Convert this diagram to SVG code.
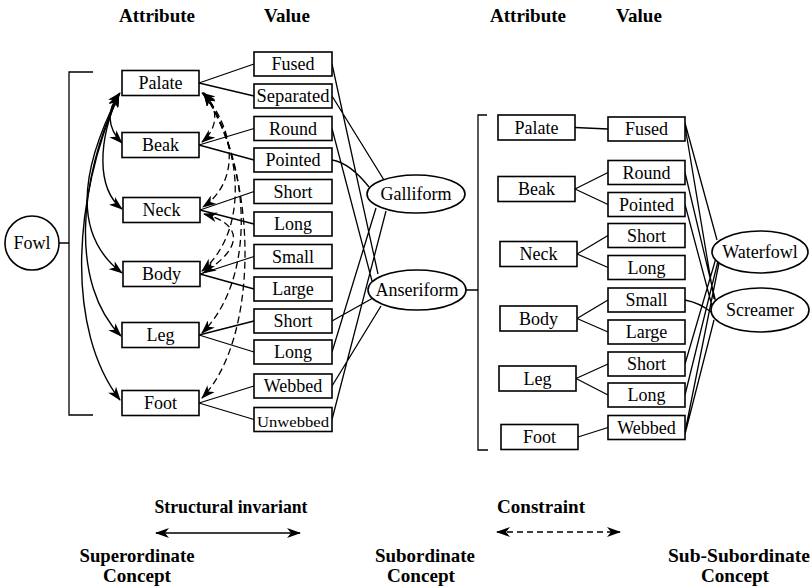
<svg xmlns="http://www.w3.org/2000/svg" width="812" height="588" viewBox="0 0 812 588">
<style>
.box{fill:#fff;stroke:#000;stroke-width:1.6}
.ell{fill:#fff;stroke:#000;stroke-width:1.6}
.t{font-family:"Liberation Serif","Times New Roman",serif;font-size:18px;text-anchor:middle;fill:#000}
.h{font-family:"Liberation Serif","Times New Roman",serif;font-size:19px;font-weight:bold;text-anchor:middle;fill:#000}
.b{font-family:"Liberation Serif","Times New Roman",serif;font-size:19px;font-weight:bold;text-anchor:middle;fill:#000}
.ln{fill:none;stroke:#000;stroke-width:1.3}
.si{fill:none;stroke:#000;stroke-width:1.4;marker-start:url(#as);marker-end:url(#ae)}
.cs{fill:none;stroke:#000;stroke-width:1.3;stroke-dasharray:7 4;marker-start:url(#as);marker-end:url(#ae)}
</style>
<defs>
<marker id="ae" viewBox="0 0 14 10" refX="13" refY="5" markerWidth="14" markerHeight="10" markerUnits="userSpaceOnUse" orient="auto"><path d="M0,0 L14,5 L0,10 L4,5 z" fill="#000"/></marker>
<marker id="as" viewBox="0 0 14 10" refX="1" refY="5" markerWidth="14" markerHeight="10" markerUnits="userSpaceOnUse" orient="auto"><path d="M14,0 L0,5 L14,10 L10,5 z" fill="#000"/></marker>
</defs>

<g id="headings">
<text class="h" x="157" y="22">Attribute</text>
<text class="h" x="287" y="22">Value</text>
<text class="h" x="528" y="22">Attribute</text>
<text class="h" x="639" y="22">Value</text>
</g>

<g id="connectors">
<path class="ln" d="M59,243 H69 M93,72 H69 V415 H93"/>
<path class="ln" d="M199,83 L254,64 M199,83 L254,96 M199,145 L254,128.5 M199,145 L254,160 M200,210 L254,191.5 M200,210 L254,224 M200,274 L254,256.5 M200,274 L254,289 M199,335 L254,321 M199,335 L254,352 M199,403 L254,386 M199,403 L254,419.5"/>
<path class="ln" d="M332,96 L384,180 M332,160 Q350,163 369,187 M332,64 L378,274 M332,128.5 L372,281 M332,352 L376,208 M332,419.5 L386,211 M332,321 L373,298 M332,386 L381,306"/>
<path class="ln" d="M466,290 H478 M487,115 H478 V450 H488"/>
<path class="ln" d="M575,127.5 L608,129 M575,189 L608,172.5 M575,189 L608,204.5 M577,254 L608,235.5 M577,254 L608,267.5 M577,318.5 L608,300 M577,318.5 L608,332 M576,378.5 L608,364 M576,378.5 L608,395 M578,437 L608,427.5"/>
<path class="ln" d="M685,123 L717,240 M685,126 L714,299 M685,172.5 L716,303 M685,204.5 L712,306 M685,300 Q700,303 711,312 M685,364 L716,258 M685,395 L718,261 M685,432 L719,263 M685,434 L714,320"/>
<path class="si" d="M120,93 C106,110 107,128 122,143"/>
<path class="si" d="M119,94 C98,140 96,188 122,209"/>
<path class="si" d="M119,94 C80,170 72,235 122,273"/>
<path class="si" d="M119,94 C78,180 70,285 121,336"/>
<path class="si" d="M119,94 C72,200 66,330 120,400"/>
<path class="cs" d="M202,93 C219,105 219,128 202,142"/>
<path class="cs" d="M203,93 C236,130 240,182 203,207"/>
<path class="cs" d="M204,93 C244,150 248,232 202,271"/>
<path class="cs" d="M204,214 C243,224 244,248 203,273"/>
<path class="cs" d="M204,93 C254,170 254,282 202,333"/>
<path class="cs" d="M204,93 C260,180 258,340 202,398"/>
</g>

<g id="fowl"><circle class="ell" cx="32" cy="243" r="27"/><text class="t" x="32" y="249">Fowl</text></g>

<g id="l-palate"><rect class="box" x="122" y="70.5" width="77" height="25"/><text class="t" x="160.5" y="89">Palate</text></g>
<g id="l-beak"><rect class="box" x="122" y="132.5" width="77" height="25"/><text class="t" x="160.5" y="151">Beak</text></g>
<g id="l-neck"><rect class="box" x="123" y="197.5" width="77" height="25"/><text class="t" x="161.5" y="216">Neck</text></g>
<g id="l-body"><rect class="box" x="123" y="261.5" width="77" height="25"/><text class="t" x="161.5" y="280">Body</text></g>
<g id="l-leg"><rect class="box" x="122" y="322.5" width="77" height="25"/><text class="t" x="160.5" y="341">Leg</text></g>
<g id="l-foot"><rect class="box" x="122" y="390.5" width="77" height="25"/><text class="t" x="160.5" y="409">Foot</text></g>

<g id="lv-fused"><rect class="box" x="254" y="52" width="78" height="24"/><text class="t" x="293" y="70">Fused</text></g>
<g id="lv-separated"><rect class="box" x="254" y="84" width="78" height="24"/><text class="t" x="293" y="102" textLength="73" lengthAdjust="spacingAndGlyphs">Separated</text></g>
<g id="lv-round"><rect class="box" x="254" y="116.5" width="78" height="24"/><text class="t" x="293" y="134.5">Round</text></g>
<g id="lv-pointed"><rect class="box" x="254" y="148" width="78" height="24"/><text class="t" x="293" y="166">Pointed</text></g>
<g id="lv-short1"><rect class="box" x="254" y="179.5" width="78" height="24"/><text class="t" x="293" y="197.5">Short</text></g>
<g id="lv-long1"><rect class="box" x="254" y="212" width="78" height="24"/><text class="t" x="293" y="230">Long</text></g>
<g id="lv-small"><rect class="box" x="254" y="244.5" width="78" height="24"/><text class="t" x="293" y="262.5">Small</text></g>
<g id="lv-large"><rect class="box" x="254" y="277" width="78" height="24"/><text class="t" x="293" y="295">Large</text></g>
<g id="lv-short2"><rect class="box" x="254" y="309" width="78" height="24"/><text class="t" x="293" y="327">Short</text></g>
<g id="lv-long2"><rect class="box" x="254" y="340" width="78" height="24"/><text class="t" x="293" y="358">Long</text></g>
<g id="lv-webbed"><rect class="box" x="254" y="374" width="78" height="24"/><text class="t" x="293" y="392">Webbed</text></g>
<g id="lv-unwebbed"><rect class="box" x="254" y="407.5" width="78" height="24"/><text class="t" x="293" y="427" style="font-size:15px" textLength="72" lengthAdjust="spacingAndGlyphs">Unwebbed</text></g>

<g id="galliform"><ellipse class="ell" cx="416" cy="194" rx="49" ry="19"/><text class="t" x="416" y="200">Galliform</text></g>
<g id="anseriform"><ellipse class="ell" cx="417" cy="290" rx="49" ry="20"/><text class="t" x="417" y="296">Anseriform</text></g>

<g id="r-palate"><rect class="box" x="498" y="115" width="77" height="25"/><text class="t" x="536.5" y="133.5">Palate</text></g>
<g id="r-beak"><rect class="box" x="498" y="176.5" width="77" height="25"/><text class="t" x="536.5" y="195">Beak</text></g>
<g id="r-neck"><rect class="box" x="500" y="241.5" width="77" height="25"/><text class="t" x="538.5" y="260">Neck</text></g>
<g id="r-body"><rect class="box" x="500" y="306" width="77" height="25"/><text class="t" x="538.5" y="324.5">Body</text></g>
<g id="r-leg"><rect class="box" x="499" y="366" width="77" height="25"/><text class="t" x="537.5" y="384.5">Leg</text></g>
<g id="r-foot"><rect class="box" x="501" y="424.5" width="77" height="25"/><text class="t" x="539.5" y="443">Foot</text></g>

<g id="rv-fused"><rect class="box" x="608" y="117" width="77" height="24"/><text class="t" x="646.5" y="135">Fused</text></g>
<g id="rv-round"><rect class="box" x="608" y="160.5" width="77" height="24"/><text class="t" x="646.5" y="178.5">Round</text></g>
<g id="rv-pointed"><rect class="box" x="608" y="192.5" width="77" height="24"/><text class="t" x="646.5" y="210.5">Pointed</text></g>
<g id="rv-short1"><rect class="box" x="608" y="223.5" width="77" height="24"/><text class="t" x="646.5" y="241.5">Short</text></g>
<g id="rv-long1"><rect class="box" x="608" y="255.5" width="77" height="24"/><text class="t" x="646.5" y="273.5">Long</text></g>
<g id="rv-small"><rect class="box" x="608" y="288" width="77" height="24"/><text class="t" x="646.5" y="306">Small</text></g>
<g id="rv-large"><rect class="box" x="608" y="320" width="77" height="24"/><text class="t" x="646.5" y="338">Large</text></g>
<g id="rv-short2"><rect class="box" x="608" y="352" width="77" height="24"/><text class="t" x="646.5" y="370">Short</text></g>
<g id="rv-long2"><rect class="box" x="608" y="383" width="77" height="24"/><text class="t" x="646.5" y="401">Long</text></g>
<g id="rv-webbed"><rect class="box" x="608" y="415.5" width="77" height="24"/><text class="t" x="646.5" y="433.5">Webbed</text></g>

<g id="waterfowl"><ellipse class="ell" cx="760" cy="252" rx="48" ry="21"/><text class="t" x="760" y="258">Waterfowl</text></g>
<g id="screamer"><ellipse class="ell" cx="760" cy="310" rx="49" ry="22"/><text class="t" x="760" y="316">Screamer</text></g>

<g id="legend">
<text class="b" x="231" y="513" textLength="153" lengthAdjust="spacingAndGlyphs">Structural invariant</text>
<line x1="156" y1="533" x2="300" y2="533" stroke="#000" stroke-width="1.5" marker-start="url(#as)" marker-end="url(#ae)"/>
<text class="b" x="541" y="513" textLength="88" lengthAdjust="spacingAndGlyphs">Constraint</text>
<line x1="497" y1="532" x2="620" y2="532" stroke="#000" stroke-width="1.3" stroke-dasharray="6 4" marker-start="url(#as)" marker-end="url(#ae)"/>
<text class="b" x="137" y="562" textLength="115" lengthAdjust="spacingAndGlyphs">Superordinate</text>
<text class="b" x="137" y="582" textLength="68" lengthAdjust="spacingAndGlyphs">Concept</text>
<text class="b" x="425" y="562" textLength="100" lengthAdjust="spacingAndGlyphs">Subordinate</text>
<text class="b" x="421" y="582" textLength="68" lengthAdjust="spacingAndGlyphs">Concept</text>
<text class="b" x="739" y="562" textLength="142" lengthAdjust="spacingAndGlyphs">Sub-Subordinate</text>
<text class="b" x="735" y="582" textLength="68" lengthAdjust="spacingAndGlyphs">Concept</text>
</g>
</svg>
